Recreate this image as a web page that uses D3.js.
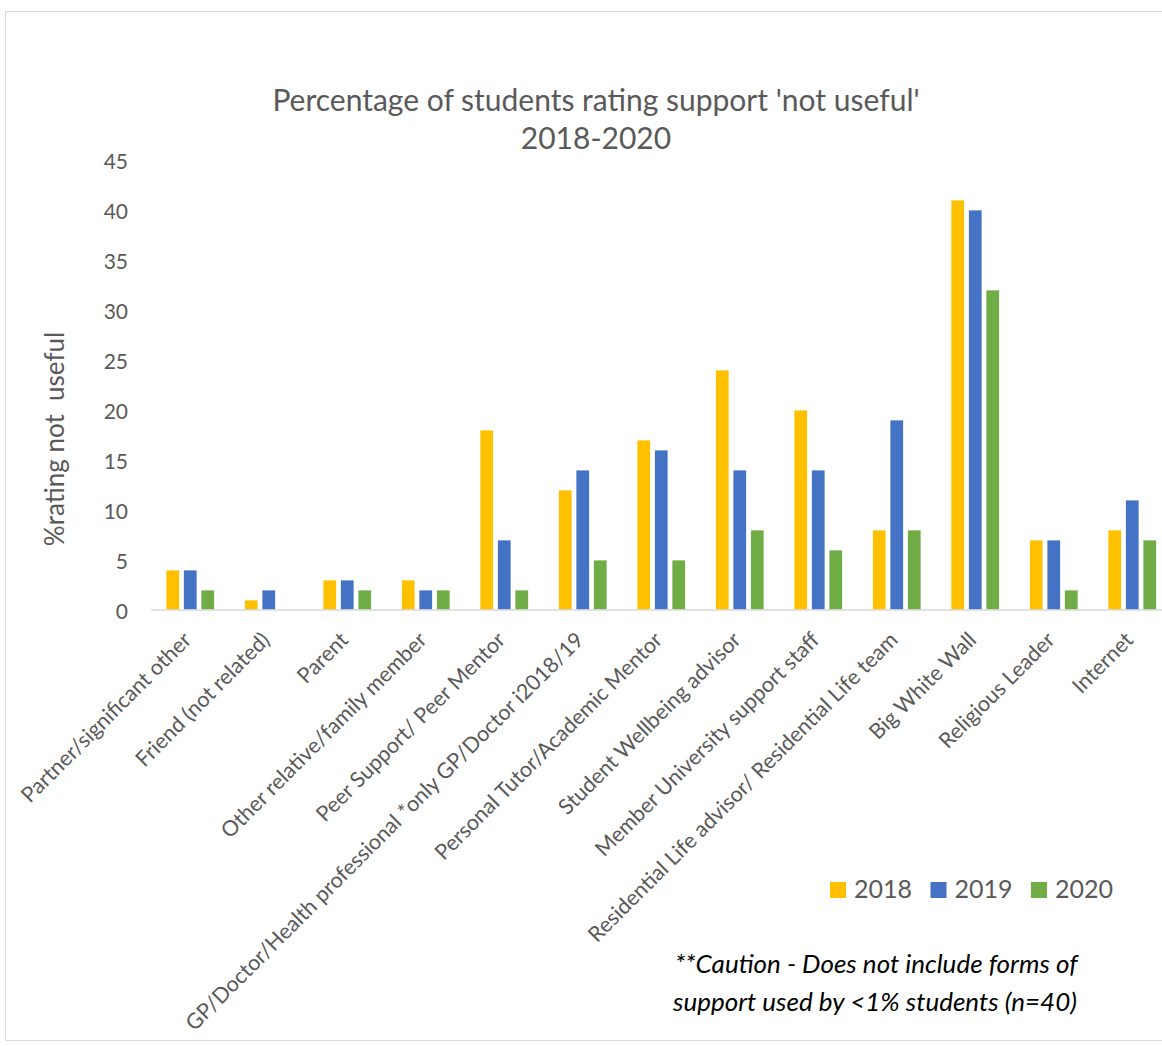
<!DOCTYPE html>
<html>
<head>
<meta charset="utf-8">
<script src="https://cdn.jsdelivr.net/npm/d3@7"></script>
<style>
  html, body { margin: 0; padding: 0; background: #fff; }
  svg { display: block; font-family: Lato, "Open Sans", sans-serif; }
</style>
</head>
<body>
<svg id="chart" width="1162" height="1046"></svg>
<script>
// Support sources surveyed
const categories = [
  "Partner/significant other",
  "Friend (not related)",
  "Parent",
  "Other relative/family member",
  "Peer Support/ Peer Mentor",
  "GP/Doctor/Health professional *only GP/Doctor i2018/19",
  "Personal Tutor/Academic Mentor",
  "Student Wellbeing advisor",
  "Member University support staff",
  "Residential Life advisor/ Residential Life team",
  "Big White Wall",
  "Religious Leader",
  "Internet"
];

// % rating each source "not useful", by survey year
const years = ["2018", "2019", "2020"];
const values2018 = [4, 1, 3, 3, 18, 12, 17, 24, 20, 8, 41, 7, 8];
const values2019 = [4, 2, 3, 2, 7, 14, 16, 14, 14, 19, 40, 7, 11];
const values2020 = [2, 0, 2, 2, 2, 5, 5, 8, 6, 8, 32, 2, 7];
const yTicks = [0, 5, 10, 15, 20, 25, 30, 35, 40, 45];

const seriesValues = { "2018": values2018, "2019": values2019, "2020": values2020 };
const colors = { "2018": "#FFC000", "2019": "#4472C4", "2020": "#70AD47" };

const svg = d3.select("#chart");
const textGray = "#595959";

// outer chart frame
svg.append("rect")
  .attr("x", 5.5).attr("y", 11.5)
  .attr("width", 1200).attr("height", 1029)
  .attr("fill", "none").attr("stroke", "#D9D9D9").attr("stroke-width", 1);

const x0 = d3.scaleBand()
  .domain(categories)
  .range([151, 1171.5])
  .paddingInner(0.382)
  .paddingOuter(0.191);

const x1 = d3.scaleBand()
  .domain(years)
  .range([0, x0.bandwidth()])
  .paddingInner(0.2286)
  .paddingOuter(0);

const y = d3.scaleLinear().domain([0, 45]).range([610, 160]);

// title
const title = svg.append("text")
  .attr("text-anchor", "middle")
  .attr("fill", textGray)
  .style("font-size", "30px");
title.append("tspan").attr("x", 596).attr("y", 111)
  .text("Percentage of students rating support 'not useful'");
title.append("tspan").attr("x", 596).attr("y", 149).text("2018-2020");

// y axis (labels only)
const yAxis = d3.axisLeft(y).tickValues(yTicks).tickSize(0).tickPadding(0);
const gy = svg.append("g").attr("transform", "translate(128,2)").call(yAxis);
gy.select(".domain").remove();
gy.selectAll("text")
  .attr("fill", textGray)
  .style("font-size", "21px")
  .style("font-family", "Lato, 'Open Sans', sans-serif");

// y axis title
svg.append("text")
  .attr("transform", "translate(64,439) rotate(-90)")
  .attr("text-anchor", "middle")
  .attr("fill", textGray)
  .style("font-size", "26px")
  .attr("xml:space", "preserve")
  .text("%rating not  useful");

// bars
const groups = svg.append("g").selectAll("g")
  .data(categories.map((c, i) => ({ c, i })))
  .join("g")
  .attr("transform", d => `translate(${x0(d.c)},0)`);

groups.selectAll("rect")
  .data(d => years.map(yr => ({ yr, v: seriesValues[yr][d.i] })).filter(e => e.v > 0))
  .join("rect")
  .attr("x", e => x1(e.yr))
  .attr("y", e => y(e.v))
  .attr("width", x1.bandwidth())
  .attr("height", e => y(0) - y(e.v))
  .attr("fill", e => colors[e.yr])
  .attr("stroke", "#fff")
  .attr("stroke-width", 0.75);

// x axis baseline and category labels
const xAxis = d3.axisBottom(x0).tickSize(0).tickPadding(0);
const gx = svg.append("g").attr("transform", `translate(0,${y(0)})`).call(xAxis);
gx.select(".domain")
  .attr("stroke", "#D9D9D9").attr("stroke-width", 1.5)
  .attr("d", "M151,0H1162");
gx.selectAll(".tick text")
  .attr("fill", textGray)
  .style("font-size", "21.5px")
  .style("font-family", "Lato, 'Open Sans', sans-serif")
  .attr("text-anchor", "end")
  .attr("dy", "0.35em")
  .attr("transform", "translate(-3,26) rotate(-45)");

// legend
const legend = svg.append("g").selectAll("g")
  .data(years)
  .join("g")
  .attr("transform", (d, i) => `translate(${830 + i * 100.5},882)`);
legend.append("rect")
  .attr("width", 16).attr("height", 16)
  .attr("fill", d => colors[d]);
legend.append("text")
  .attr("x", 24).attr("y", 16)
  .attr("fill", textGray)
  .style("font-size", "25px")
  .text(d => d);

// footnote
const note = svg.append("text")
  .attr("fill", "#000")
  .style("font-size", "26px")
  .style("font-style", "italic");
note.append("tspan").attr("x", 675).attr("y", 973)
  .text("**Caution - Does not include forms of");
note.append("tspan").attr("x", 673).attr("y", 1011)
  .text("support used by <1% students (n=40)");
</script>
</body>
</html>
